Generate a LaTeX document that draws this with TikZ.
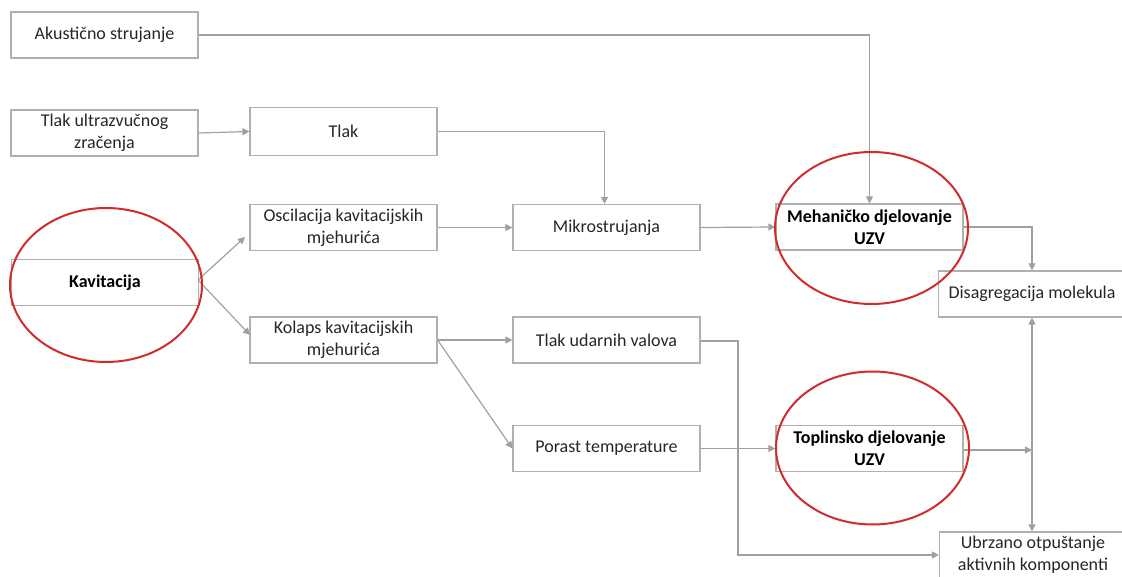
\documentclass[tikz,border=0pt]{standalone}
\usepackage{fontspec}
\setmainfont{Carlito}
\usetikzlibrary{arrows.meta,positioning}
\definecolor{linegray}{HTML}{A0A0A0}
\definecolor{boxgray}{HTML}{B0B0B0}
\definecolor{txtgray}{HTML}{262626}
\definecolor{ringred}{HTML}{D12B2B}
\tikzset{
  bx/.style={draw=boxgray, line width=1.2pt, minimum width=187pt, minimum height=46pt,
    inner sep=0pt, align=center, text=txtgray, font=\fontsize{18}{22}\selectfont},
  bbx/.style={bx, text=black, font=\fontsize{18}{22}\selectfont\bfseries},
  conn/.style={draw=linegray, line width=1.2pt, -{Triangle[length=7pt,width=7pt]}},
  plain/.style={draw=linegray, line width=1.2pt},
  ring/.style={draw=ringred, line width=2pt},
}
\begin{document}
\begin{tikzpicture}[x=1pt,y=-1pt]
\useasboundingbox (0,0) rectangle (1122,577);
% boxes
\node[bx] (ak) at (104.5,35) {Akustično strujanje};
\node[bx] (tuz) at (104.5,133) {Tlak ultrazvučnog\\zračenja};
\node[bx, minimum height=48pt] (tl) at (343.5,131.5) {Tlak};
\node[bbx] (kav) at (105,282.5) {Kavitacija};
\node[bx] (osc) at (343.5,227.5) {Oscilacija kavitacijskih\\mjehurića};
\node[bx] (kol) at (343.5,340) {Kolaps kavitacijskih\\mjehurića};
\node[bx] (mik) at (606.5,227.5) {Mikrostrujanja};
\node[bx] (tuv) at (606.5,340) {Tlak udarnih valova};
\node[bx] (por) at (606.5,448.5) {Porast temperature};
\node[bbx] (meh) at (869.5,227) {Mehaničko djelovanje\\UZV};
\node[bbx] (top) at (869.5,448.5) {Toplinsko djelovanje\\UZV};
\node[bx] (dis) at (1032,294) {Disagregacija molekula};
\node[bx] (ubr) at (1033,555) {Ubrzano otpuštanje\\aktivnih komponenti};
% helper coordinates
\coordinate (kavout) at (198,280);
\coordinate (osctip) at (245,237);
\coordinate (koltip) at (250,335);
\coordinate (tuvturn) at (738,341);
\coordinate (topend) at (1032,450);
% connectors
\draw[conn] (ak.east) -| (meh.north);
\draw[conn] (tuz.east) -- (tl.west);
\draw[conn] (tl.east) -| ([xshift=-2pt]mik.north);
\draw[conn] (kavout) -- (osctip);
\draw[conn] (kavout) -- (koltip);
\draw[conn] (osc.east) -- (mik.west);
\draw[conn] (mik.east) -- (meh.west);
\draw[conn] (meh.east) -| (dis.north);
\draw[conn] (kol.east) -- (tuv.west);
\draw[conn] (kol.east) -- (por.west);
\draw[conn] (tuv.east |- tuvturn) -- (tuvturn) |- (ubr.west);
\draw[conn] (por.east) -- (top.west);
\draw[conn] (top.east |- topend) -- (topend);
\draw[conn, {Triangle[length=7pt,width=7pt]}-{Triangle[length=7pt,width=7pt]}] (dis.south) -- (dis.south |- ubr.north);
% red ellipses
\draw[ring] (106,285) ellipse [x radius=96, y radius=77];
\draw[ring] (871.5,228) ellipse [x radius=96.5, y radius=76];
\draw[ring] (872.5,448) ellipse [x radius=96.5, y radius=76.5];
\end{tikzpicture}
\end{document}
